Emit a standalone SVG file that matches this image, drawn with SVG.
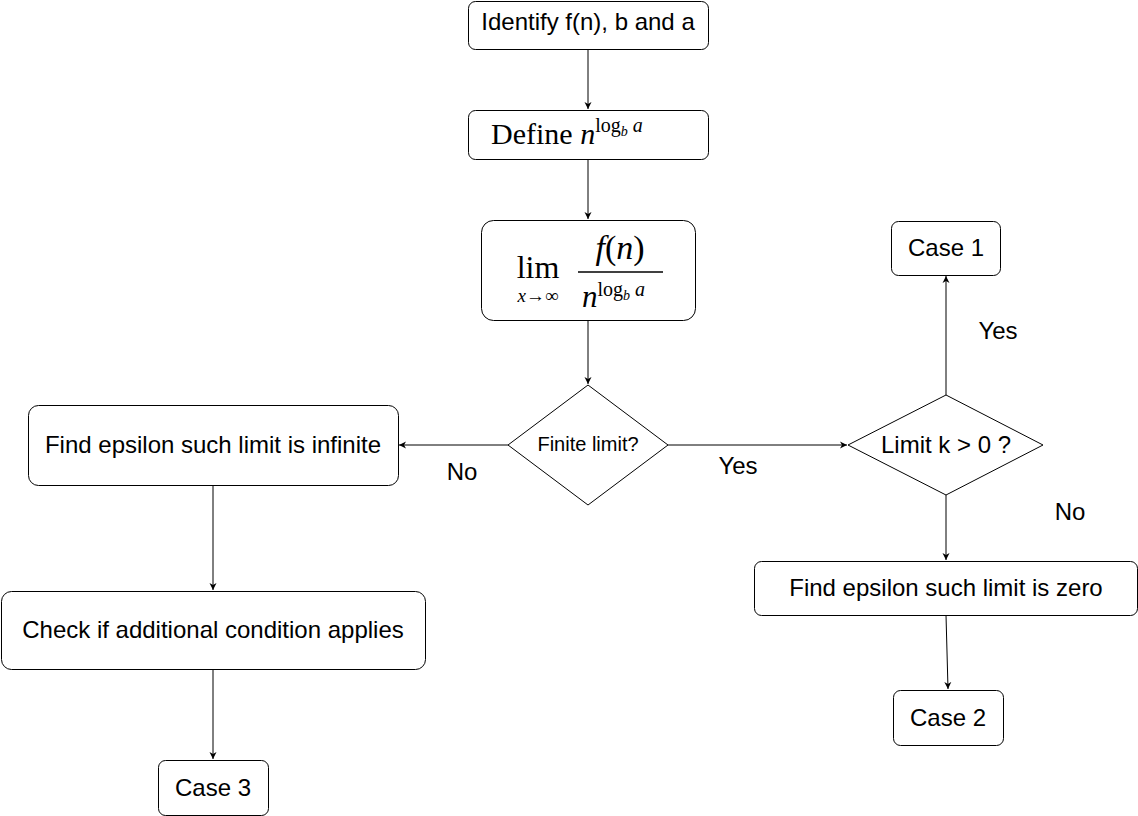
<svg xmlns="http://www.w3.org/2000/svg" width="1138" height="816" viewBox="0 0 1138 816">
<style>
.box{fill:#fff;stroke:#000;stroke-width:1}
.t{font-family:"Liberation Sans",Arial,sans-serif;font-size:24px;fill:#000;text-anchor:middle}
.s{font-family:"Liberation Sans",Arial,sans-serif;font-size:20px;fill:#000;text-anchor:middle}
.m{font-family:"Liberation Serif","Times New Roman",serif;fill:#000}
.c{stroke:#000;stroke-width:1;fill:none;marker-end:url(#ah)}
</style>
<defs>
<marker id="ah" markerWidth="8" markerHeight="8" refX="7" refY="4" orient="auto" markerUnits="userSpaceOnUse">
<path d="M0,0.5 L7,4 L0,7.5 L2,4 Z" fill="#000"/>
</marker>
</defs>
<rect width="1138" height="816" fill="#fff"/>
<g id="connectors">
<path class="c" d="M588,49 V109"/>
<path class="c" d="M588,159 V219"/>
<path class="c" d="M588,320 V384"/>
<path class="c" d="M508,445 H399"/>
<path class="c" d="M668,445 H847"/>
<path class="c" d="M946,395 V276"/>
<path class="c" d="M946,495 V560"/>
<path class="c" d="M946,615 L948,689"/>
<path class="c" d="M213,485 V590"/>
<path class="c" d="M213,669 V759"/>
<text class="t" x="462" y="480" font-size="23">No</text>
<text class="t" x="738" y="474" font-size="23">Yes</text>
<text class="t" x="998" y="339" font-size="23">Yes</text>
<text class="t" x="1070" y="520" font-size="23">No</text>
</g>
<g id="n1"><rect class="box" x="468.5" y="1.5" width="240" height="48" rx="7"/><text class="t" x="588" y="30">Identify f(n), b and a</text></g>
<g id="n2"><rect class="box" x="468.5" y="110.5" width="240" height="49" rx="7"/>
<text class="m" x="491" y="144" font-size="30">Define <tspan font-style="italic">n</tspan><tspan font-size="20" dy="-12">log</tspan><tspan font-size="14" font-style="italic" dy="4">b</tspan><tspan font-size="20" font-style="italic" dy="-4"> a</tspan></text></g>
<g id="n3"><rect class="box" x="481.5" y="220.5" width="214" height="100" rx="12"/>
<text class="m" x="538" y="278" font-size="32" text-anchor="middle">lim</text>
<text class="m" x="538" y="302" font-size="19" text-anchor="middle"><tspan font-style="italic">x</tspan>→∞</text>
<text class="m" x="620" y="259" font-size="34" text-anchor="middle"><tspan font-style="italic">f</tspan>(<tspan font-style="italic">n</tspan>)</text>
<line x1="578" y1="272" x2="663" y2="272" stroke="#000" stroke-width="1.5"/>
<text class="m" x="582" y="307" font-size="31"><tspan font-style="italic">n</tspan><tspan font-size="20" dy="-11">log</tspan><tspan font-size="14" font-style="italic" dy="4">b</tspan><tspan font-size="20" font-style="italic" dy="-4"> a</tspan></text></g>
<g id="d1"><path class="box" d="M588,385 L668,445 L588,505 L508,445 Z"/><text class="s" x="588" y="451">Finite limit?</text></g>
<g id="d2"><path class="box" d="M946,395 L1043,445 L946,495 L848,445 Z"/><text class="t" x="946" y="453">Limit k &gt; 0 ?</text></g>
<g id="case1"><rect class="box" x="891.5" y="221.5" width="109" height="54" rx="7"/><text class="t" x="946" y="256">Case 1</text></g>
<g id="zero"><rect class="box" x="754.5" y="561.5" width="383" height="54" rx="7"/><text class="t" x="946" y="596">Find epsilon such limit is zero</text></g>
<g id="case2"><rect class="box" x="893.5" y="690.5" width="110" height="55" rx="7"/><text class="t" x="948" y="726">Case 2</text></g>
<g id="inf"><rect class="box" x="28.5" y="405.5" width="370" height="80" rx="10"/><text class="t" x="213" y="453">Find epsilon such limit is infinite</text></g>
<g id="check"><rect class="box" x="1.5" y="591.5" width="424" height="78" rx="10"/><text class="t" x="213" y="638">Check if additional condition applies</text></g>
<g id="case3"><rect class="box" x="158.5" y="760.5" width="110" height="55" rx="7"/><text class="t" x="213" y="796">Case 3</text></g>
</svg>
